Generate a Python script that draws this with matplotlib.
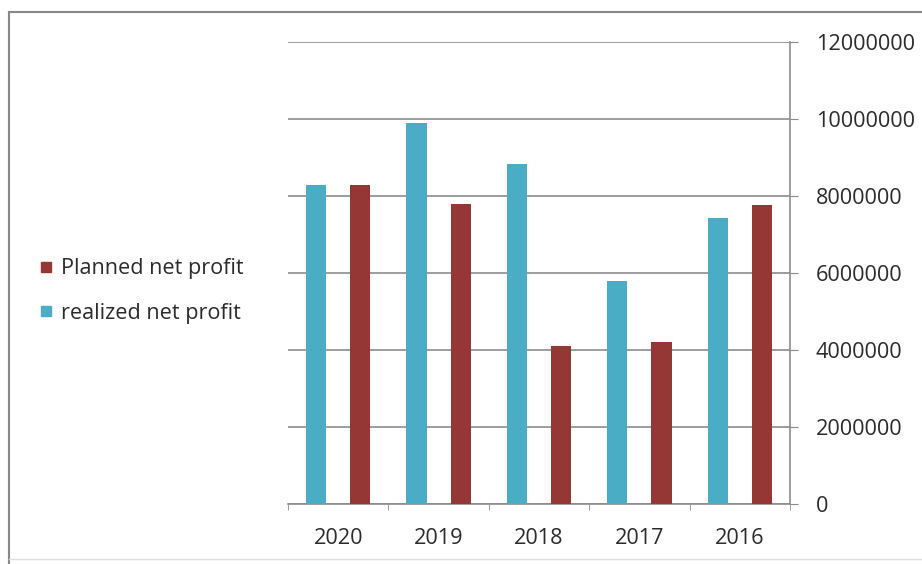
import numpy as np
import matplotlib
matplotlib.use('Agg')
import matplotlib.pyplot as plt
from matplotlib.lines import Line2D
from matplotlib.ticker import FuncFormatter, FixedLocator

plt.rcParams['font.family'] = ['Open Sans', 'DejaVu Sans']
plt.rcParams['font.size'] = 15.6

# Nettogewinn je Jahr
years = ['2020', '2019', '2018', '2017', '2016']
realized = [8290000, 9900000, 8820000, 5780000, 7440000]
planned = [8280000, 7790000, 4100000, 4200000, 7770000]

col_real = '#4BACC6'
col_plan = '#953735'
col_grid = '#8c8c8c'
col_text = '#2b2b2b'

fig = plt.figure(figsize=(9.22, 5.64), dpi=100)
ax = fig.add_axes([288/922, 60/564, 502/922, 462/564])

x = np.arange(len(years))
w = 0.2
ax.bar(x - 0.22, realized, width=w, color=col_real, zorder=3)
ax.bar(x + 0.22, planned, width=w, color=col_plan, zorder=3)

ax.set_xlim(-0.5, len(years) - 0.5)
ax.set_ylim(0, 12000000)
ax.set_yticks(np.arange(0, 12000001, 2000000))
ax.yaxis.set_major_formatter(FuncFormatter(lambda v, p: '%d' % v))
ax.yaxis.tick_right()
ax.grid(axis='y', color=col_grid, linewidth=1.2, zorder=0)

ax.set_xticks(x)
ax.set_xticklabels(years)
ax.xaxis.set_minor_locator(FixedLocator(np.arange(-0.5, len(years), 1.0)))
ax.tick_params(axis='x', which='major', length=0, pad=17, colors=col_text)
ax.tick_params(axis='x', which='minor', length=4.5, color=col_grid, direction='out')
ax.tick_params(axis='y', length=5.5, direction='out', pad=13, colors=col_text)
ax.tick_params(axis='y', color=col_grid)

for s in ['top', 'left']:
    ax.spines[s].set_visible(False)
for s in ['right', 'bottom']:
    ax.spines[s].set_color(col_grid)
    ax.spines[s].set_linewidth(1.2)

# Legende links
handles = [Line2D([], [], linestyle='none', marker='s', markersize=6.5, color=col_plan),
           Line2D([], [], linestyle='none', marker='s', markersize=6.5, color=col_real)]
fig.legend(handles, ['Planned net profit', 'realized net profit'],
           loc='center left', bbox_to_anchor=(30/922, 1 - 291/564),
           frameon=False, handlelength=0.5, handletextpad=0.45,
           labelspacing=1.1, labelcolor=col_text, borderpad=0)

# Rahmen
fig.add_artist(Line2D([9/922, 9/922], [0, 1 - 12/564], color='#888888', lw=1.5, transform=fig.transFigure))
fig.add_artist(Line2D([9/922, 1], [1 - 12/564, 1 - 12/564], color='#888888', lw=1.5, transform=fig.transFigure))
fig.add_artist(Line2D([9/922, 1], [5/564, 5/564], color='#dddddd', lw=1.0, transform=fig.transFigure))

fig.savefig('out.png', dpi=100)
